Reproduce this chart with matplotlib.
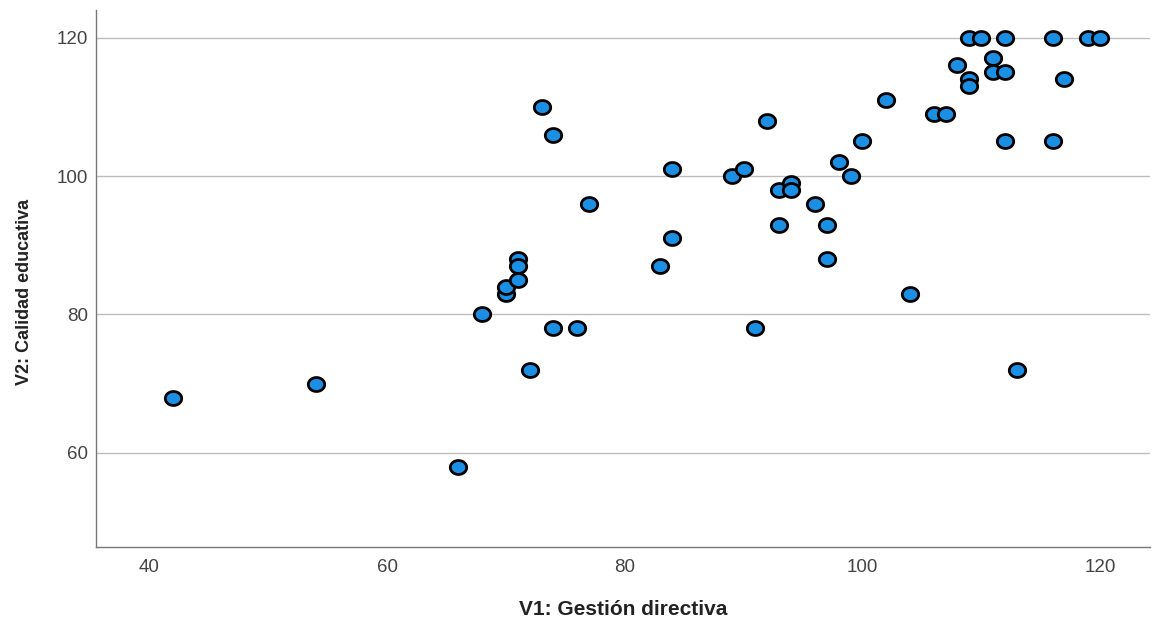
import matplotlib
matplotlib.use("Agg")
import matplotlib.pyplot as plt
import numpy as np
from matplotlib.path import Path

# Data
gestion_directiva = [42, 54, 66, 68, 70, 70, 71, 71, 71, 72, 73, 74, 74, 76, 77,
                     83, 84, 84, 89, 90, 91, 92, 93, 93, 94, 94, 96, 97, 97, 98,
                     99, 100, 102, 104, 106, 107, 108, 109, 110, 109, 109, 111,
                     111, 112, 112, 112, 113, 116, 116, 117, 119, 120]
calidad_educativa = [68, 70, 58, 80, 83, 84, 88, 87, 85, 72, 110, 106, 78, 78, 96,
                     87, 101, 91, 100, 101, 78, 108, 98, 93, 99, 98, 96, 93, 88, 102,
                     100, 105, 111, 83, 109, 109, 116, 120, 120, 114, 113, 117,
                     115, 115, 120, 105, 72, 120, 105, 114, 120, 120]

x_ticks = [40, 60, 80, 100, 120]
y_ticks = [60, 80, 100, 120]
x_label = "V1: Gestión directiva"
y_label = "V2: Calidad educativa"

plt.rcParams['font.family'] = ['Liberation Sans', 'DejaVu Sans']

fig = plt.figure(figsize=(11.52, 6.19), dpi=100)
ax = fig.add_axes([96/1152, 1 - 547/619, 1054/1152, 537/619])

# elliptical marker (slightly wider than tall)
t = np.linspace(0, 2*np.pi, 60)
ell = Path(np.column_stack([np.cos(t), 0.85*np.sin(t)]), closed=True)

ax.scatter(gestion_directiva, calidad_educativa, marker=ell, s=11.8**2,
           facecolor='#1b8fe4', edgecolor='black', linewidths=2.0, zorder=3)

ax.set_xlim(35.5, 124.2)
ax.set_ylim(46.4, 124.0)
ax.set_xticks(x_ticks)
ax.set_yticks(y_ticks)
ax.tick_params(length=0, labelsize=13.5, labelcolor='#444444')
ax.tick_params(axis='y', pad=6)
ax.tick_params(axis='x', pad=9)
ax.grid(axis='y', color='#bdbdbd', linewidth=1)
ax.set_axisbelow(True)
for s in ['top', 'right']:
    ax.spines[s].set_visible(False)
for s in ['left', 'bottom']:
    ax.spines[s].set_color('#777777')
    ax.spines[s].set_linewidth(1)

ax.set_xlabel(x_label, fontsize=15, fontweight='bold', color='#222222', labelpad=17)
ax.set_ylabel(y_label, fontsize=13, fontweight='bold', color='#222222')
ax.yaxis.set_label_coords((33 - 96) / 1054, (547 - 292) / 537)

fig.savefig("out.png", dpi=100)
